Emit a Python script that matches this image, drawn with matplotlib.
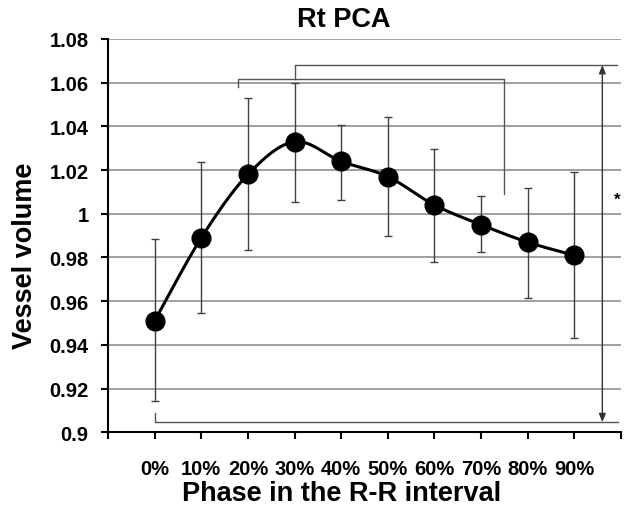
import numpy as np
import matplotlib
matplotlib.use("Agg")
import matplotlib.pyplot as plt

# ---- data ----
phases = ["0%", "10%", "20%", "30%", "40%", "50%", "60%", "70%", "80%", "90%"]
means = [0.951, 0.989, 1.018, 1.033, 1.024, 1.017, 1.004, 0.995, 0.987, 0.981]
err_hi = [0.9885, 1.0239, 1.053, 1.0597, 1.0408, 1.0444, 1.0297, 1.0083, 1.0117, 1.0193]
err_lo = [0.9145, 0.9546, 0.9834, 1.0055, 1.0063, 0.9897, 0.9778, 0.9824, 0.9613, 0.9432]
yticks = [0.9, 0.92, 0.94, 0.96, 0.98, 1.0, 1.02, 1.04, 1.06, 1.08]
ytick_labels = ["0.9", "0.92", "0.94", "0.96", "0.98", "1", "1.02", "1.04", "1.06", "1.08"]

plt.rcParams['font.family'] = ['Liberation Sans', 'DejaVu Sans']
plt.rcParams['font.weight'] = 'bold'

fig = plt.figure(figsize=(6.28, 5.06), dpi=100)
ax = fig.add_axes([108/628, 1-433.3/506, (621-108)/628, (433.3-40)/506])

x = np.arange(1, len(phases)+1)
m = np.array(means)
lo = m - np.array(err_lo)
hi = np.array(err_hi) - m

# grid
for yv in yticks[1:]:
    ax.axhline(yv, color='#a0a0a0', lw=1.4, zorder=0)

# smooth line (Catmull-Rom style, like Excel smoothing)
def smooth(xs, ys, n=30):
    xs = np.asarray(xs, float); ys = np.asarray(ys, float)
    px = np.concatenate([[xs[0]], xs, [xs[-1]]])
    py = np.concatenate([[ys[0]], ys, [ys[-1]]])
    outx, outy = [], []
    t = np.linspace(0, 1, n)
    for i in range(1, len(px)-2):
        p0 = np.array([px[i], py[i]]); p3 = np.array([px[i+1], py[i+1]])
        p1 = p0 + (np.array([px[i+1], py[i+1]]) - np.array([px[i-1], py[i-1]])) / 6
        p2 = p3 - (np.array([px[i+2], py[i+2]]) - np.array([px[i], py[i]])) / 6
        b = ((1-t)**3)[:, None]*p0 + (3*(1-t)**2*t)[:, None]*p1 + (3*(1-t)*t**2)[:, None]*p2 + (t**3)[:, None]*p3
        outx.extend(b[:, 0]); outy.extend(b[:, 1])
    return outx, outy

sx, sy = smooth(x, m)
ax.plot(sx, sy, color='black', lw=2.2, zorder=3)
ax.errorbar(x, m, yerr=[lo, hi], fmt='none', ecolor='#404040', elinewidth=1.0,
            capsize=3, capthick=1.0, zorder=2)
ax.plot(x, m, 'o', color='black', ms=13.5, zorder=4)

# significance brackets
bc = '#555555'
ax.plot([4, 4, 10.91], [1.0617, 1.0681, 1.0681], color=bc, lw=1.0, zorder=1)
ax.plot([2.79, 2.79, 8.5, 8.5], [1.058, 1.0617, 1.0617, 1.009], color=bc, lw=1.0, zorder=1)
ax.plot([1, 1, 10.93], [0.909, 0.9046, 0.9046], color=bc, lw=1.0, zorder=1)
ax.annotate('', xy=(10.6, 1.0681), xytext=(10.6, 0.9046),
            arrowprops=dict(arrowstyle='<|-|>,head_length=0.5,head_width=0.2',
                            color='#333333', lw=1.0, shrinkA=0, shrinkB=0), zorder=2)
ax.text(10.91, 1.0068, '*', ha='center', va='center', fontsize=12, fontweight='bold')

ax.set_xlim(0, 11)
ax.set_ylim(0.9, 1.08)
ax.set_xticks(np.arange(0, 12))
ax.set_xticklabels([''] + phases + [''], fontsize=14.5, fontweight='bold')
ax.set_yticks(yticks)
ax.set_yticklabels(ytick_labels, fontsize=14.5, fontweight='bold')
ax.tick_params(axis='x', direction='out', length=5, width=1.5, pad=14)
ax.tick_params(axis='y', direction='out', length=5, width=1.5, pad=9)
for s in ['top', 'right']:
    ax.spines[s].set_visible(False)
for s in ['left', 'bottom']:
    ax.spines[s].set_linewidth(1.5)
    ax.spines[s].set_color('black')

fig.text(344/628, 1-20/506, 'Rt PCA', ha='center', va='center', fontsize=19.5, fontweight='bold')
fig.text(342/628, 1-494/506, 'Phase in the R-R interval', ha='center', va='center',
         fontsize=19.5, fontweight='bold')
fig.text(25/628, 1-256/506, 'Vessel volume', ha='center', va='center', rotation=90,
         fontsize=19.5, fontweight='bold')

fig.savefig('out.png', dpi=100)
